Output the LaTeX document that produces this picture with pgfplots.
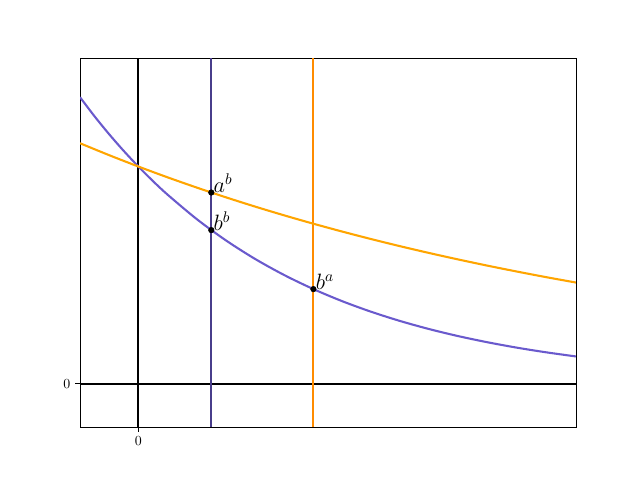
\documentclass[border=0pt]{standalone}
\usepackage{graphicx}
\usepackage{pgfplots}
\pgfplotsset{compat=1.18}
\definecolor{slateblue}{RGB}{106,90,205}
\definecolor{darkslateblue}{RGB}{72,61,139}
\definecolor{mplorange}{RGB}{255,165,0}
\definecolor{darkorange}{RGB}{255,140,0}
\newcommand{\lbl}[1]{\scalebox{1.11}{\Large$#1$}}
\begin{document}
\begin{tikzpicture}
% whole figure 640x480 px = 460.8pt x 345.6pt
\useasboundingbox (-57.6pt,-38.16pt) rectangle (403.2pt,307.44pt);
\begin{axis}[
    at={(0,0)}, anchor=south west,
    scale only axis,
    width=357.12pt, height=265.68pt,
    xmin=-0.4, xmax=3.0,
    ymin=-0.2, ymax=1.5,
    xtick={0}, ytick={0},
    tick align=outside,
    major tick length=3.5pt,
    every tick/.style={black, line width=0.6pt},
    axis line style={line width=0.6pt},
    tick label style={font=\normalsize},
    xtick pos=bottom, ytick pos=left,
    clip=true,
]
% axes through the origin
\addplot[black, line width=1.5pt] coordinates {(-0.4,0) (3.0,0)};
\addplot[black, line width=1.5pt] coordinates {(0,-0.2) (0,1.5)};
% vertical lines at x=b and x=a
\addplot[darkslateblue, line width=1.5pt] coordinates {(0.5,-0.2) (0.5,1.5)};
\addplot[darkorange, line width=1.5pt] coordinates {(1.2,-0.2) (1.2,1.5)};
% b^x
\addplot[slateblue, line width=1.5pt, smooth] coordinates {
(-0.4,1.3195) (-0.3,1.2311) (-0.2,1.1487) (-0.1,1.0718) (0,1) (0.1,0.9330)
(0.2,0.8706) (0.4,0.7579) (0.6,0.6598)
(0.8,0.5743) (1.0,0.5) (1.2,0.4353) (1.4,0.3789) (1.6,0.3299) (1.8,0.2872)
(2.0,0.25) (2.2,0.2176) (2.4,0.1895) (2.6,0.1649) (2.8,0.1436) (3.0,0.125)};
% a-curve
\addplot[mplorange, line width=1.5pt, smooth] coordinates {
(-0.4,1.1073) (-0.2,1.0523) (0,1) (0.2,0.9503) (0.4,0.9031) (0.6,0.8582)
(0.8,0.8155) (1.0,0.775) (1.2,0.7365) (1.4,0.6999) (1.6,0.6651) (1.8,0.6320)
(2.0,0.6006) (2.2,0.5708) (2.4,0.5424) (2.6,0.5155) (2.8,0.4898) (3.0,0.4655)};
% points
\addplot[only marks, mark=*, mark size=2pt, black]
    coordinates {(0.5,0.8803) (0.5,0.7071) (1.2,0.4353)};
\begin{scope}[every node/.style={anchor=base west, inner sep=0pt, xshift=1.5pt}]
\node at (axis cs:0.5,0.8803) {\lbl{a^b}};
\node at (axis cs:0.5,0.7071) {\lbl{b^b}};
\node at (axis cs:1.2,0.4353) {\lbl{b^a}};
\end{scope}
\end{axis}
\end{tikzpicture}
\end{document}
